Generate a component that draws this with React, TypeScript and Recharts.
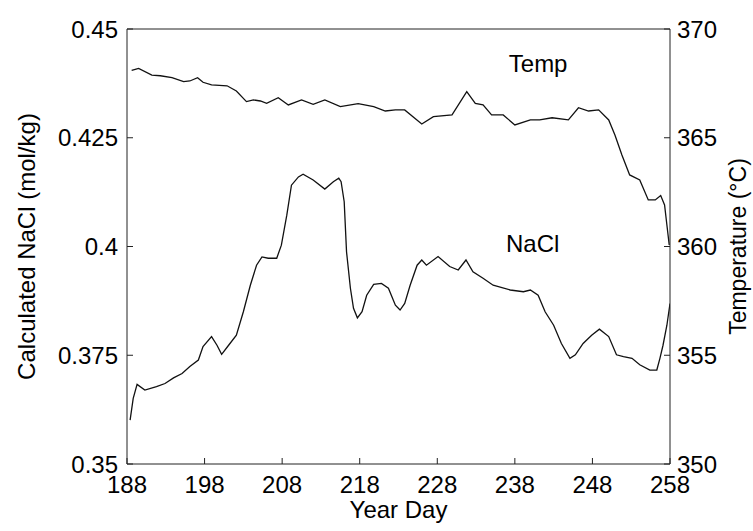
import { LineChart, Line, XAxis, YAxis, ReferenceDot } from 'recharts';

// NaCl trace, calculated concentration (mol/kg) by year day
const naclDays = [
  188.4, 188.8, 189.3, 190.3, 191.8, 192.9, 194.0, 195.1, 196.1, 197.2, 197.8, 198.9,
  199.6, 200.2, 201.1, 202.1, 203.0, 203.9, 204.7, 205.4, 206.2, 207.3, 207.9, 208.6,
  209.2, 210.1, 210.7, 212.0, 213.5, 214.6, 215.3, 215.6, 216.0, 216.3, 216.8, 217.2,
  217.7, 218.3, 218.9, 219.8, 220.8, 221.7, 222.6, 223.2, 223.8, 224.5, 225.4, 226.0,
  226.6, 228.1, 229.6, 230.7, 231.7, 232.6, 233.9, 235.2, 237.4, 239.1, 240.0, 241.0,
  241.9, 243.0, 244.0, 245.1, 245.8, 246.8, 247.9, 248.9, 250.1, 251.1, 252.0, 253.1,
  254.1, 255.4, 256.3, 256.7, 257.1, 257.6, 258.0,
];
const naclValues = [
  0.3601, 0.3651, 0.3683, 0.367, 0.3678, 0.3685, 0.3698, 0.3708, 0.3724, 0.3739, 0.377, 0.3793,
  0.3773, 0.3752, 0.3773, 0.3796, 0.385, 0.3911, 0.3957, 0.3976, 0.3973, 0.3973, 0.4003, 0.4072,
  0.4141, 0.416, 0.4166, 0.4153, 0.4132, 0.4149, 0.4157, 0.4149, 0.4103, 0.3988, 0.3904, 0.3858,
  0.3836, 0.385, 0.3888, 0.3913, 0.3915, 0.3904, 0.3865, 0.3854, 0.3869, 0.3911, 0.3957, 0.3969,
  0.3957, 0.3977, 0.3954, 0.3946, 0.3969, 0.3942, 0.3927, 0.3911, 0.39, 0.3896, 0.39, 0.3888,
  0.385, 0.3819, 0.3777, 0.3743, 0.3751, 0.3777, 0.3796, 0.381, 0.3793, 0.3751, 0.3747, 0.3743,
  0.3728, 0.3716, 0.3716, 0.3743, 0.3773, 0.3819, 0.3869,
];

// Temperature trace (deg C) by year day
const tempDays = [
  188.6, 189.5, 191.2, 192.3, 193.8, 195.3, 196.1, 197.1, 197.8, 198.9, 200.9, 202.1,
  203.4, 204.3, 205.2, 206.0, 207.5, 208.8, 210.5, 212.0, 213.5, 215.5, 217.8, 219.8,
  221.3, 222.6, 223.8, 226.0, 227.5, 229.9, 231.8, 232.9, 233.9, 235.0, 236.5, 238.0,
  240.0, 241.2, 242.8, 244.9, 246.2, 247.5, 248.8, 250.1, 250.9, 251.8, 252.8, 254.1,
  255.2, 256.1, 256.8, 257.3, 257.6, 257.9,
];
const tempValues = [
  368.1, 368.19, 367.88, 367.85, 367.76, 367.58, 367.61, 367.76, 367.55, 367.43, 367.39, 367.15,
  366.66, 366.74, 366.69, 366.58, 366.84, 366.51, 366.74, 366.54, 366.74, 366.43, 366.57, 366.43,
  366.23, 366.28, 366.28, 365.63, 365.97, 366.05, 367.12, 366.58, 366.51, 366.05, 366.05, 365.59,
  365.82, 365.82, 365.92, 365.82, 366.38, 366.23, 366.28, 365.82, 365.13, 364.21, 363.29, 363.06,
  362.14, 362.14, 362.34, 361.91, 360.99, 360.07,
];

const dayTicks = [188, 198, 208, 218, 228, 238, 248, 258];
const naclTicks = [0.35, 0.375, 0.4, 0.425, 0.45];
const tempTicks = [350, 355, 360, 365, 370];

const naclData = naclDays.map((day, i) => ({ day, nacl: naclValues[i] }));
const tempData = tempDays.map((day, i) => ({ day, temp: tempValues[i] }));

const FONT = '"Liberation Sans", Arial, Helvetica, sans-serif';
const AXIS = '#222';
const tickStyle = { fill: '#000', fontSize: 24, fontFamily: FONT };

export default function App() {
  return (
    <div style={{ position: 'absolute', left: 0, top: 0, width: 753, height: 531, background: '#fff' }}>
      <LineChart width={753} height={531} margin={{ top: 0, right: 0, bottom: 0, left: 0 }}>
        <XAxis
          xAxisId="bottom"
          dataKey="day"
          type="number"
          domain={[188, 258]}
          ticks={dayTicks}
          allowDataOverflow
          height={67}
          stroke={AXIS}
          tickSize={-6}
          tickMargin={18}
          tick={tickStyle}
          label={{ value: 'Year Day', position: 'insideBottom', offset: 13, fill: '#000', fontSize: 24, fontFamily: FONT }}
        />
        {/* top frame edge with inward ticks, no labels */}
        <XAxis
          xAxisId="top"
          orientation="top"
          type="number"
          domain={[188, 258]}
          ticks={dayTicks}
          allowDataOverflow
          height={29}
          stroke={AXIS}
          tickSize={-6}
          tickFormatter={() => ''}
        />
        <YAxis
          yAxisId="nacl"
          type="number"
          domain={[0.35, 0.45]}
          ticks={naclTicks}
          allowDataOverflow
          width={127}
          stroke={AXIS}
          tickSize={-6}
          tickMargin={15}
          tick={tickStyle}
          label={{
            value: 'Calculated NaCl (mol/kg)',
            angle: -90,
            position: 'insideLeft',
            offset: 26,
            textAnchor: 'middle',
            fill: '#000',
            fontSize: 24,
            fontFamily: FONT,
          }}
        />
        <YAxis
          yAxisId="temp"
          orientation="right"
          type="number"
          domain={[350, 370]}
          ticks={tempTicks}
          allowDataOverflow
          width={83}
          stroke={AXIS}
          tickSize={-6}
          tickMargin={13}
          tick={tickStyle}
          label={{
            value: 'Temperature (°C)',
            angle: -90,
            position: 'insideRight',
            offset: 15,
            textAnchor: 'middle',
            fill: '#000',
            fontSize: 23,
            fontFamily: FONT,
          }}
        />
        <Line
          data={naclData}
          xAxisId="bottom"
          yAxisId="nacl"
          dataKey="nacl"
          stroke="#111"
          strokeWidth={1.3}
          dot={false}
          isAnimationActive={false}
        />
        <Line
          data={tempData}
          xAxisId="bottom"
          yAxisId="temp"
          dataKey="temp"
          stroke="#111"
          strokeWidth={1.3}
          dot={false}
          isAnimationActive={false}
        />
        <ReferenceDot
          xAxisId="bottom"
          yAxisId="temp"
          x={241}
          y={368.4}
          r={0}
          label={{ value: 'Temp', position: 'center', fill: '#000', fontSize: 24, fontFamily: FONT }}
        />
        <ReferenceDot
          xAxisId="bottom"
          yAxisId="nacl"
          x={240.3}
          y={0.4008}
          r={0}
          label={{ value: 'NaCl', position: 'center', fill: '#000', fontSize: 24, fontFamily: FONT }}
        />
      </LineChart>
    </div>
  );
}
